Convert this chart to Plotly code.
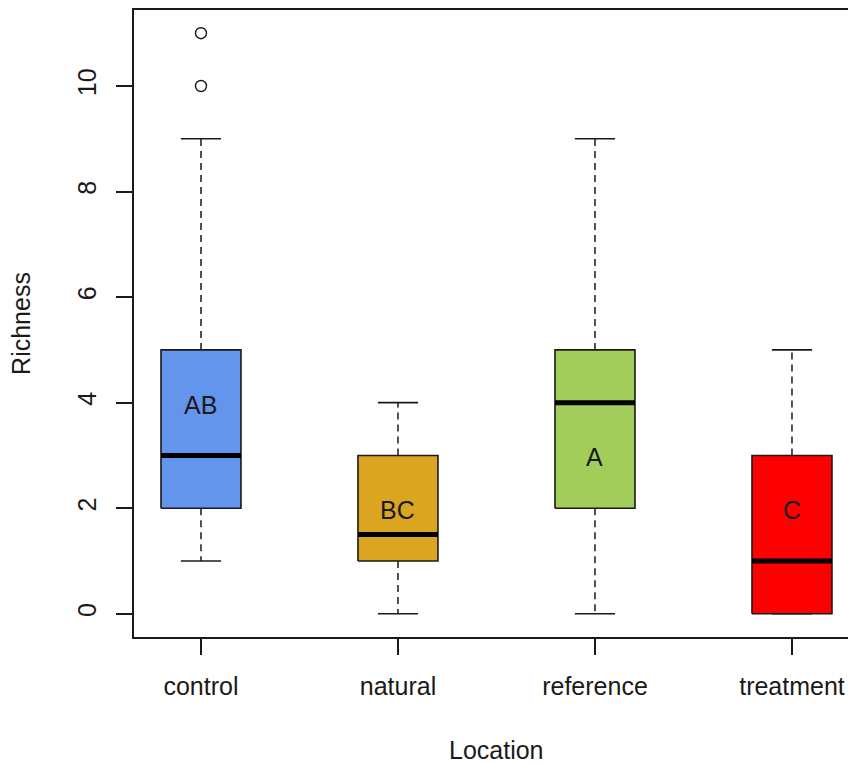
import plotly.graph_objects as go

# Richness by location: five-number summaries (whisker ends, quartiles, median)
locations = ["control", "natural", "reference", "treatment"]
lower_whisker = [1, 0, 0, 0]
q1 = [2, 1, 2, 0]
median = [3, 1.5, 4, 1]
q3 = [5, 3, 5, 3]
upper_whisker = [9, 4, 9, 5]
outlier_location = ["control", "control"]
outlier_value = [10, 11]

# Compact-letter display from the post-hoc comparison
group_letters = ["AB", "BC", "A", "C"]
letter_y = [4, 2, 3, 2]

box_colors = ["#6495ED", "#DAA520", "#A2CD5A", "#FF0000"]

FONT = "Liberation Sans, Arial, sans-serif"
INK = "#1a1a1a"
HALF_BOX = 0.203
HALF_CAP = 0.102

positions = list(range(1, len(locations) + 1))
pos_of = dict(zip(locations, positions))

fig = go.Figure()

# whiskers (dashed) and staples
for p, lw, lo, hi, uw in zip(positions, lower_whisker, q1, q3, upper_whisker):
    for a, b in ((lo, lw), (hi, uw)):
        if a != b:
            fig.add_trace(go.Scatter(
                x=[p, p], y=[a, b], mode="lines",
                line=dict(color=INK, width=1.5, dash="7px,5px"),
                hoverinfo="skip", showlegend=False))
    for v in (lw, uw):
        fig.add_trace(go.Scatter(
            x=[p - HALF_CAP, p + HALF_CAP], y=[v, v], mode="lines",
            line=dict(color=INK, width=1.6),
            hoverinfo="skip", showlegend=False))

# boxes
for p, lo, hi, col in zip(positions, q1, q3, box_colors):
    fig.add_trace(go.Scatter(
        x=[p - HALF_BOX, p + HALF_BOX, p + HALF_BOX, p - HALF_BOX, p - HALF_BOX],
        y=[lo, lo, hi, hi, lo], mode="lines", fill="toself", fillcolor=col,
        line=dict(color=INK, width=1.6),
        hoverinfo="skip", showlegend=False))

# medians
for p, m in zip(positions, median):
    fig.add_trace(go.Scatter(
        x=[p - HALF_BOX, p + HALF_BOX], y=[m, m], mode="lines",
        line=dict(color="black", width=5),
        hoverinfo="skip", showlegend=False))

# outliers
fig.add_trace(go.Scatter(
    x=[pos_of[l] for l in outlier_location], y=outlier_value, mode="markers",
    marker=dict(symbol="circle-open", size=11, color=INK, line=dict(width=1.4)),
    hoverinfo="skip", showlegend=False))

# group letters, centred on their y value
for p, txt, ly in zip(positions, group_letters, letter_y):
    fig.add_annotation(
        x=p, y=ly, xref="x", yref="y", text=txt, showarrow=False,
        xanchor="center", yanchor="middle", yshift=-2,
        font=dict(family=FONT, size=25, color=INK))

W, H = 848, 764
ML, MT, MB = 134, 10, 127
px_per_unit = 197
x_lo = 0.66
x_hi = x_lo + (W - ML) / px_per_unit          # visible right edge
x_sym = (len(locations) + 1) - x_lo            # symmetric right limit of the full frame

# x-axis title centred on the full symmetric x range
fig.add_annotation(
    x=(x_lo + x_sym) / 2, y=0, xref="x", yref="paper", text="Location",
    showarrow=False, xanchor="center", yanchor="middle", yshift=-113,
    font=dict(family=FONT, size=25, color=INK))

fig.update_layout(
    width=W, height=H,
    margin=dict(l=ML, r=0, t=MT, b=MB),
    paper_bgcolor="white", plot_bgcolor="white",
    font=dict(family=FONT, size=25, color=INK),
    xaxis=dict(
        range=[x_lo, x_hi], tickvals=positions, ticktext=locations,
        showgrid=False, zeroline=False,
        showline=True, mirror=True, linecolor=INK, linewidth=2,
        ticks="outside", ticklen=16, tickwidth=1.6, tickcolor=INK,
        ticklabelstandoff=10,
    ),
    yaxis=dict(
        range=[-0.44, 11.44], tickvals=[0, 2, 4, 6, 8, 10],
        showgrid=False, zeroline=False,
        showline=True, linecolor=INK, linewidth=2,
        ticks="outside", ticklen=16, tickwidth=1.6, tickcolor=INK,
        tickangle=-90, ticklabelstandoff=10,
        title=dict(text="Richness", standoff=35, font=dict(size=25)),
    ),
)

fig.write_html("out.html")
